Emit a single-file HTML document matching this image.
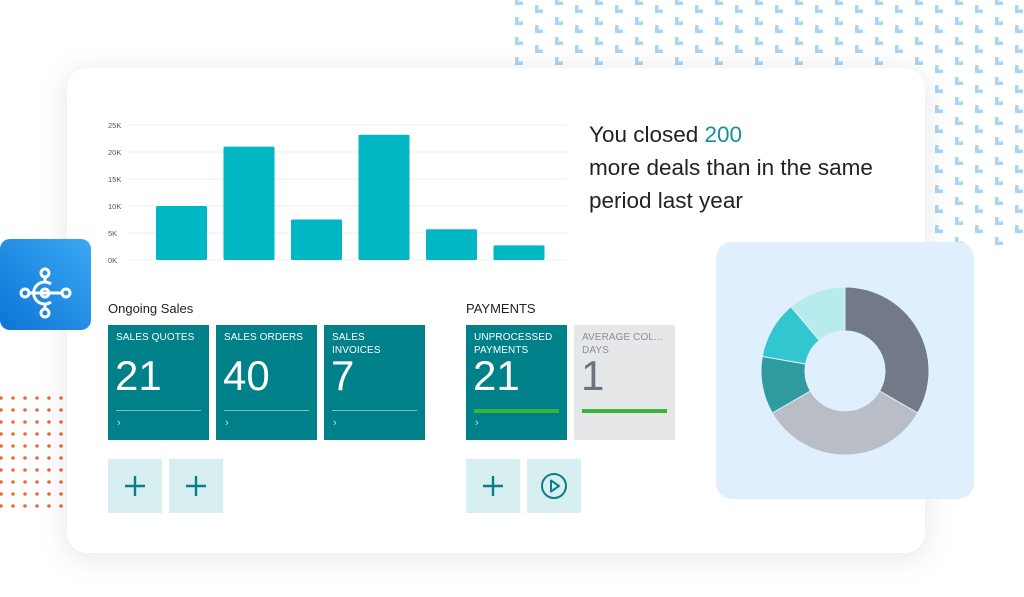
<!DOCTYPE html>
<html><head><meta charset="utf-8">
<style>
html,body{margin:0;padding:0;width:1024px;height:597px;overflow:hidden;background:#fff;font-family:"Liberation Sans",sans-serif;}
#root{position:relative;width:1024px;height:597px;}
.abs{position:absolute;}
.card{left:67px;top:68px;width:858px;height:485px;background:#fff;border-radius:20px;box-shadow:0 4px 28px rgba(60,80,100,0.15);}
.tile{position:absolute;top:325px;width:101px;height:115px;background:#00818a;color:#fff;box-sizing:border-box;padding:7px 8px;}
.tile .t{font-size:10px;line-height:12.5px;white-space:nowrap;letter-spacing:0.1px;}
.tile .n{position:absolute;left:7px;top:30px;font-size:42px;line-height:42px;}
.tile .ln{position:absolute;left:8px;right:8px;top:85px;height:1px;background:#7fc0c5;}
.tile .ch{position:absolute;left:9px;top:92px;font-size:11px;color:#bfe0e2;}
.btn{position:absolute;top:459px;width:54px;height:54px;background:#d8eff1;}
</style></head><body>
<div id="root">
<svg class="abs" style="left:0;top:0" width="1024" height="597" id="bgsvg"></svg>
<div class="abs card"></div>
<div class="abs" style="left:0;top:239px;width:91px;height:91px;border-radius:10px;background:linear-gradient(225deg,#3aa9f5,#0d74d4);">
<svg width="91" height="91"><g fill="none" stroke="#fff" stroke-width="3"><circle cx="45" cy="34" r="4"/><circle cx="45" cy="74" r="4"/><circle cx="25" cy="54" r="4"/><circle cx="66" cy="54" r="4"/><line x1="45" y1="38" x2="45" y2="44"/><line x1="45" y1="64" x2="45" y2="70"/><line x1="29" y1="54" x2="62" y2="54"/><path d="M51 45 A11 11 0 1 0 51 63"/><circle cx="45" cy="54" r="4"/></g></svg>
</div>
<svg class="abs" style="left:0;top:0" width="1024" height="597" id="chart"></svg>
<div class="abs" style="left:589px;top:118px;font-size:22.5px;line-height:33px;color:#222;">You closed <span style="color:#1a8f9a">200</span><br>more deals than in the same<br>period last year</div>
<div class="abs" style="left:108px;top:301px;font-size:13px;color:#222;">Ongoing Sales</div>
<div class="abs" style="left:466px;top:301px;font-size:13px;color:#222;">PAYMENTS</div>
<div class="tile" style="left:108px"><div class="t">SALES QUOTES</div><div class="n">21</div><div class="ln"></div><div class="ch">›</div></div>
<div class="tile" style="left:216px"><div class="t">SALES ORDERS</div><div class="n">40</div><div class="ln"></div><div class="ch">›</div></div>
<div class="tile" style="left:324px"><div class="t">SALES<br>INVOICES</div><div class="n">7</div><div class="ln"></div><div class="ch">›</div></div>
<div class="tile" style="left:466px"><div class="t">UNPROCESSED<br>PAYMENTS</div><div class="n">21</div><div class="ln" style="background:#3bb33b;height:4px;top:84px"></div><div class="ch">›</div></div>
<div class="tile" style="left:574px;background:#e6e7e9;color:#8a9099"><div class="t">AVERAGE COL...<br>DAYS</div><div class="n" style="color:#6b7380">1</div><div class="ln" style="background:#3bb33b;height:4px;top:84px"></div></div>
<div class="btn" style="left:108px"><svg width="54" height="54"><path d="M27 17v20M17 27h20" stroke="#0b7f88" stroke-width="2.4"/></svg></div>
<div class="btn" style="left:169px"><svg width="54" height="54"><path d="M27 17v20M17 27h20" stroke="#0b7f88" stroke-width="2.4"/></svg></div>
<div class="btn" style="left:466px"><svg width="54" height="54"><path d="M27 17v20M17 27h20" stroke="#0b7f88" stroke-width="2.4"/></svg></div>
<div class="btn" style="left:527px"><svg width="54" height="54"><circle cx="27" cy="27" r="12" fill="none" stroke="#0b7f88" stroke-width="2"/><path d="M24 21.5v11l8-5.5z" fill="none" stroke="#0b7f88" stroke-width="2" stroke-linejoin="round"/></svg></div>
<div class="abs" style="left:716px;top:242px;width:258px;height:257px;border-radius:16px;background:#e0effd;"></div>
<svg class="abs" style="left:0;top:0" width="1024" height="597" id="donut"></svg>
</div>
<script>
var NS="http://www.w3.org/2000/svg";
function mk(p,t,a){var e=document.createElementNS(NS,t);for(var k in a)e.setAttribute(k,a[k]);p.appendChild(e);return e;}
var bg=document.getElementById('bgsvg');
for(var c=0;c<26;c++){var x=515+c*20;var off=(c%2)?8:0;
 for(var r=0;r<13;r++){var y=-3+off+r*20; if(x<930&&y>60)continue; if(y>240)continue;
  var L=mk(bg,'path',{d:'M'+x+' '+y+'v8h8v-3.5h-4.5v-4.5z',fill:'#a9d5f8'});
  
  }}
for(var c=0;c<6;c++)for(var r=0;r<10;r++){var d=mk(bg,'circle',{cx:1+c*12,cy:398+r*12,r:1.8,fill:'#ef6a3e'});
 
 }

var categories=['A','B','C','D','E','F'];
var values=[10,21,7.5,23.2,5.7,2.7];
var ticks=[0,5,10,15,20,25];
var tickLabels=['0K','5K','10K','15K','20K','25K'];
var ch=document.getElementById('chart');
function yS(v){return 260-v*5.4;}
function xS(i){return 156+i*67.5;}
ticks.forEach(function(t,i){
 var g=mk(ch,'line',{x1:128,x2:567,y1:yS(t),y2:yS(t),stroke:'#ececec','stroke-width':1});
 
 
 var tx=mk(ch,'text',{x:108,y:yS(t)+3,'font-size':7.5,fill:'#555','font-family':'Liberation Sans, sans-serif'});
 tx.textContent=tickLabels[i];
 
 });
values.forEach(function(v,i){
 var b=mk(ch,'rect',{x:xS(i),y:yS(v),width:51,height:yS(0)-yS(v),rx:1.5,fill:'#00b7c3'});
 
 });

var sliceValues=[30,30,10,10,10];
var sliceColors=['#717a86','#b9bdc6','#2f9b9f','#31c6d0','#b7ebee'];
var dn=document.getElementById('donut');
var cx=845,cy=371,R=84,r0=40,tot=sliceValues.reduce(function(a,b){return a+b},0),a0=0;
sliceValues.forEach(function(v,i){
 var a1=a0+v/tot*2*Math.PI;
 function p(a,rr){return (cx+rr*Math.sin(a)).toFixed(2)+' '+(cy-rr*Math.cos(a)).toFixed(2);}
 var lg=(a1-a0)>Math.PI?1:0;
 var s=mk(dn,'path',{d:'M'+p(a0,R)+'A'+R+' '+R+' 0 '+lg+' 1 '+p(a1,R)+'L'+p(a1,r0)+'A'+r0+' '+r0+' 0 '+lg+' 0 '+p(a0,r0)+'Z',fill:sliceColors[i],stroke:'#e0effd','stroke-width':1});
 
 
 a0=a1;});
</script>
</body></html>
